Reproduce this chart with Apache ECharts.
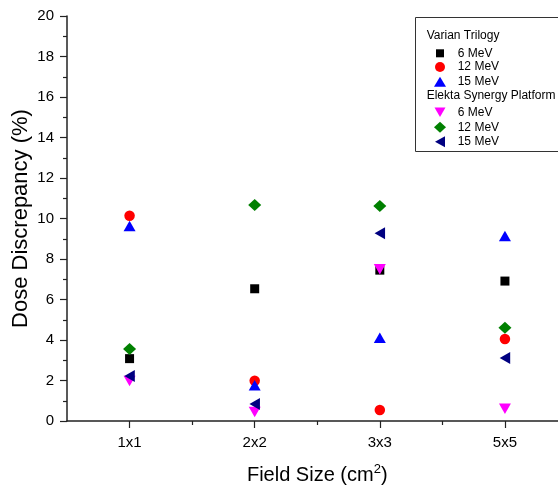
<!DOCTYPE html>
<html>
<head>
<meta charset="utf-8">
<script src="https://cdn.jsdelivr.net/npm/echarts@6/dist/echarts.min.js"></script>
<style>
  html, body { margin: 0; padding: 0; background: #fff; }
  #chart { width: 558px; height: 489px; }
</style>
</head>
<body>
<div id="chart"></div>
<script>
// Field sizes (categories along x)
const categories = ['1x1', '2x2', '3x3', '5x5'];
const yTicks = [0, 2, 4, 6, 8, 10, 12, 14, 16, 18, 20];

// Dose discrepancy (%) per field size
const varian6 = [3.08, 6.53, 7.45, 6.91];
const varian12 = [10.14, 1.99, 0.54, 4.05];
const varian15 = [9.63, 1.77, 4.11, 9.14];
const elekta6 = [1.97, 0.45, 7.5, 0.61];
const elekta12 = [3.55, 10.67, 10.62, 4.61];
const elekta15 = [2.22, 0.84, 9.27, 3.11];

const FONT = '"Liberation Sans", Arial, sans-serif';
const AXIS_COLOR = '#222';

function pts(vals) {
  return vals.map((v, i) => [i + 1, v]);
}

function scatter(name, vals, symbol, color, size, rotate) {
  return {
    type: 'scatter',
    name: name,
    data: pts(vals),
    symbol: symbol,
    symbolSize: size,
    symbolRotate: rotate || 0,
    itemStyle: { color: color, opacity: 1 },
    emphasis: { disabled: true },
    xAxisIndex: 0,
    yAxisIndex: 0
  };
}

const series = [
  scatter('Varian 6 MeV', varian6, 'rect', '#000000', 9),
  scatter('Varian 12 MeV', varian12, 'circle', '#ff0000', 10.5),
  scatter('Varian 15 MeV', varian15, 'triangle', '#0000ff', [12, 10.5]),
  scatter('Elekta 6 MeV', elekta6, 'triangle', '#ff00ff', [12, 10.5], 180),
  scatter('Elekta 12 MeV', elekta12, 'diamond', '#008000', [13, 12]),
  scatter('Elekta 15 MeV', elekta15, 'triangle', '#000080', [12, 10.5], 90)
];

// One legend entry per row so each marker keeps its own size
const LEG_CX = 440, LEG_TEXT_X = 457.7;
function legendRow(name, label, icon, w, h, cy) {
  return {
    orient: 'vertical',
    left: LEG_CX - w / 2,
    top: cy - h / 2,
    padding: 0,
    itemWidth: w,
    itemHeight: h,
    selectedMode: false,
    data: [{ name: name, icon: icon }],
    formatter: () => label,
    textStyle: {
      fontFamily: FONT, fontSize: 12, color: '#000',
      padding: [0, 0, 0, LEG_TEXT_X - (LEG_CX + w / 2) - 5]
    }
  };
}

const legends = [
  legendRow('Varian 6 MeV', '6 MeV', 'rect', 8, 8, 51.3),
  legendRow('Varian 12 MeV', '12 MeV', 'circle', 10, 10, 66),
  legendRow('Varian 15 MeV', '15 MeV', 'path://M6,0 L12,10 L0,10 Z', 12, 10, 80.7),
  legendRow('Elekta 6 MeV', '6 MeV', 'path://M0,0 L11,0 L5.5,9.5 Z', 11, 9.5, 111),
  legendRow('Elekta 12 MeV', '12 MeV', 'diamond', 12, 11, 126.7),
  legendRow('Elekta 15 MeV', '15 MeV', 'path://M10,0 L10,11 L0,5.5 Z', 10, 11, 141.3)
];

const chart = echarts.init(document.getElementById('chart'), null, { renderer: 'canvas' });
chart.setOption({
  animation: false,
  backgroundColor: '#fff',
  grid: { left: 67, top: 16, right: -9.5, bottom: 68, containLabel: false, outerBoundsMode: 'none' },
  xAxis: [{
    type: 'value',
    min: 0.5,
    max: 4.5,
    interval: 0.5,
    name: '{a|Field Size (cm}{s|2}{a|)}',
    nameLocation: 'middle',
    nameGap: 42,
    nameTextStyle: {
      rich: {
        a: { fontFamily: FONT, fontSize: 20, color: '#000', lineHeight: 24 },
        s: { fontFamily: FONT, fontSize: 13, color: '#000', verticalAlign: 'top', lineHeight: 24, padding: [0, 0, 10, 0] }
      }
    },
    splitLine: { show: false },
    axisLine: { onZero: false, lineStyle: { color: AXIS_COLOR, width: 1.5 } },
    axisTick: { customValues: [1, 2, 3, 4], length: 7, lineStyle: { color: AXIS_COLOR, width: 1.2 } },
    axisLabel: {
      customValues: [1, 2, 3, 4],
      formatter: v => categories[Math.round(v) - 1] || '',
      fontFamily: FONT, fontSize: 15, color: '#000', margin: 14
    }
  }, {
    type: 'value',
    min: 0.5,
    max: 4.5,
    position: 'bottom',
    axisLine: { show: false },
    splitLine: { show: false },
    axisTick: { customValues: [1.5, 2.5, 3.5], length: 4, lineStyle: { color: AXIS_COLOR, width: 1.2 } },
    axisLabel: { show: false }
  }],
  yAxis: {
    type: 'value',
    min: 0,
    max: 20,
    interval: 2,
    name: 'Dose Discrepancy (%)',
    nameLocation: 'middle',
    nameGap: 35,
    nameMoveOverlap: false,
    nameTextStyle: { fontFamily: FONT, fontSize: 22, color: '#000' },
    splitLine: { show: false },
    axisLine: { show: true, lineStyle: { color: AXIS_COLOR, width: 1.5 } },
    axisTick: { length: 7, lineStyle: { color: AXIS_COLOR, width: 1.2 } },
    minorTick: { show: true, splitNumber: 2, length: 4, lineStyle: { color: AXIS_COLOR, width: 1.2 } },
    axisLabel: {
      customValues: yTicks,
      fontFamily: FONT, fontSize: 15, color: '#000', margin: 13
    }
  },
  legend: legends,
  graphic: [
    {
      type: 'rect', silent: true, z: -1,
      shape: { x: 415.5, y: 17.5, width: 160, height: 134 },
      style: { fill: '#fff', stroke: '#333', lineWidth: 1 }
    },
    {
      type: 'text', x: 426.7, y: 35.7, silent: true,
      style: { text: 'Varian Trilogy', font: '12px ' + FONT, fill: '#000', verticalAlign: 'middle' }
    },
    {
      type: 'text', x: 426.7, y: 96, silent: true,
      style: { text: 'Elekta Synergy Platform', font: '12px ' + FONT, fill: '#000', verticalAlign: 'middle' }
    }
  ],
  series: series
});
</script>
</body>
</html>
